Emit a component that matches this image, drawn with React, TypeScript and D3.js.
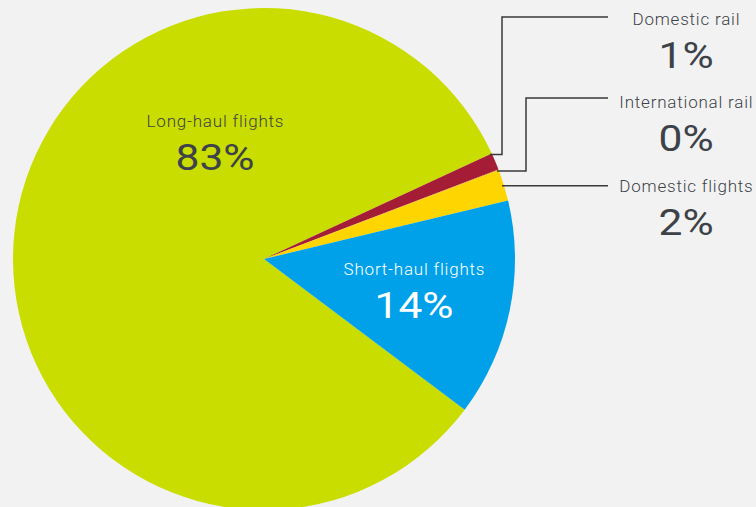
import React from "react";
import * as d3 from "d3";

const categories = ["Long-haul flights", "Domestic rail", "International rail", "Domestic flights", "Short-haul flights"];
const values = [82.85, 1.1, 0.05, 2.0, 14.0];
const valueLabels = ["83%", "1%", "0%", "2%", "14%"];
const colors = ["#c9dd00", "#a51c36", "#e8a317", "#ffd500", "#00a1e8"];

const W = 756, H = 507;
const cx = 264, cy = 259, R = 251;
const textColor = "#3d4249";
const font = "Roboto, sans-serif";

const labelSize = 17;
const labelLS = 0.8;
const valueSize = 37;
const valueScaleX = 1.15;

function Label({ x, y, text, fill }: { x: number; y: number; text: string; fill: string }) {
  return (
    <text x={x + labelLS / 2} y={y} textAnchor="middle" fontFamily={font} fontSize={labelSize} fontWeight={300} letterSpacing={labelLS} fill={fill}>{text}</text>
  );
}
function Value({ x, y, text, fill }: { x: number; y: number; text: string; fill: string }) {
  return (
    <text transform={`translate(${x},${y}) scale(${valueScaleX},1)`} textAnchor="middle" fontFamily={font} fontSize={valueSize} fontWeight={400} fill={fill}>{text}</text>
  );
}

export default function App() {
  const pie = d3.pie<number>().sort(null).value(d => d)
    .startAngle((126.9 * Math.PI) / 180)
    .endAngle((126.9 * Math.PI) / 180 + 2 * Math.PI);
  const arcs = pie(values);
  const arc = d3.arc<d3.PieArcDatum<number>>().innerRadius(0).outerRadius(R);

  const pt = (a: number, r: number) => [cx + r * Math.sin(a), cy - r * Math.cos(a)];

  const ext = [
    { i: 1, f: 0, elbow: 502, ly: 17, ty: 25 },
    { i: 2, f: 1, elbow: 526, ly: 98, ty: 108 },
    { i: 3, f: 0.5, elbow: null as number | null, ly: 0, ty: 192 },
  ];

  return (
    <svg width={W} height={H} style={{ position: "absolute", left: 0, top: 0, background: "#f2f2f2" }}>
      <rect width={W} height={H} fill="#f2f2f2" />
      <g transform={`translate(${cx},${cy})`}>
        {arcs.map((a, i) => (
          <path key={i} d={arc(a) || ""} fill={colors[i]} />
        ))}
      </g>
      {ext.map(e => {
        const a = arcs[e.i];
        const ang = a.startAngle + (a.endAngle - a.startAngle) * e.f;
        const [x0, y0] = pt(ang, R - 2);
        const pts = e.elbow === null
          ? [[x0, y0], [608, y0]]
          : [[x0, y0], [e.elbow, y0], [e.elbow, e.ly], [608, e.ly]];
        return (
          <g key={e.i}>
            <path d={d3.line()(pts as [number, number][]) || ""} fill="none" stroke="#3a3a3a" strokeWidth={1.5} />
            <Label x={686} y={e.ty} text={categories[e.i]} fill={textColor} />
            <Value x={686} y={e.ty + 43} text={valueLabels[e.i]} fill={textColor} />
          </g>
        );
      })}
      <Label x={215} y={127} text={categories[0]} fill={textColor} />
      <Value x={215} y={170} text={valueLabels[0]} fill={textColor} />
      <Label x={414} y={275} text={categories[4]} fill="#ffffff" />
      <Value x={414} y={318} text={valueLabels[4]} fill="#ffffff" />
    </svg>
  );
}
